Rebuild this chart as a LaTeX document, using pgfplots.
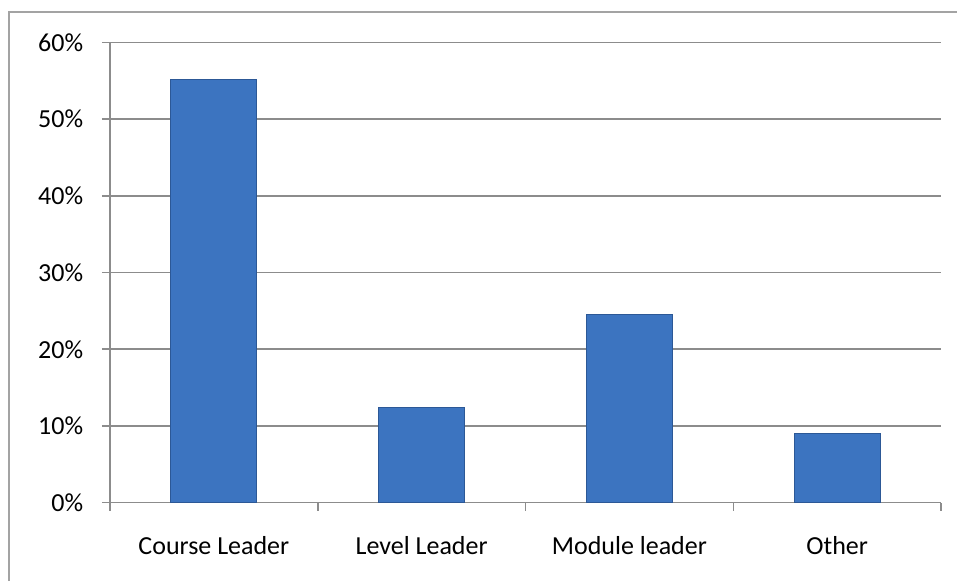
\documentclass[border=0pt]{standalone}
\usepackage{fontspec}
\setmainfont{Carlito}
\usepackage{pgfplots}
\pgfplotsset{compat=1.18}

\definecolor{gridgray}{HTML}{8C8C8C}
\definecolor{barmid}{HTML}{3C74C0}
\definecolor{baredge}{HTML}{2C5896}

\begin{document}
\fontsize{26}{31}\selectfont
\begin{tikzpicture}
  % frame of the chart area (cropped on the right and bottom)
  \path[use as bounding box] (0pt,0pt) rectangle (957pt,-581pt);
  \draw[gridgray!80, line width=1.5pt] (9pt,-581pt) -- (9pt,-12pt) -- (957pt,-12pt);

  \begin{axis}[
    at={(110pt,-502.7pt)}, anchor=origin,
    scale only axis,
    width=831pt, height=460.4pt,
    xmin=0.5, xmax=4.5,
    ymin=0, ymax=60,
    axis x line*=bottom,
    axis y line*=left,
    axis line style={gridgray, line width=1.5pt},
    ytick={0,10,...,60},
    yticklabel={\pgfmathprintnumber{\tick}\%},
    ymajorgrids,
    grid style={gridgray, line width=1.5pt},
    xtick={1,2,3,4},
    xticklabels={Course Leader, Level Leader, Module leader, Other},
    minor xtick={0.5,1.5,2.5,3.5,4.5},
    tick align=outside,
    major x tick style={draw=none},
    minor x tick style={gridgray, line width=1.5pt},
    minor tick length=8pt,
    major tick length=8pt,
    ytick style={gridgray, line width=1.5pt},
    tick label style={font=\fontsize{26}{31}\selectfont, text=black},
    /pgf/number format/assume math mode=true,
    yticklabel style={xshift=-10pt},
    xticklabel style={yshift=-17pt},
    clip=false,
  ]
    \addplot[ybar, bar width=86pt, draw=baredge, line width=1pt, fill=barmid]
      coordinates {(1,55.2) (2,12.4) (3,24.5) (4,9.0)};
  \end{axis}
\end{tikzpicture}
\end{document}
